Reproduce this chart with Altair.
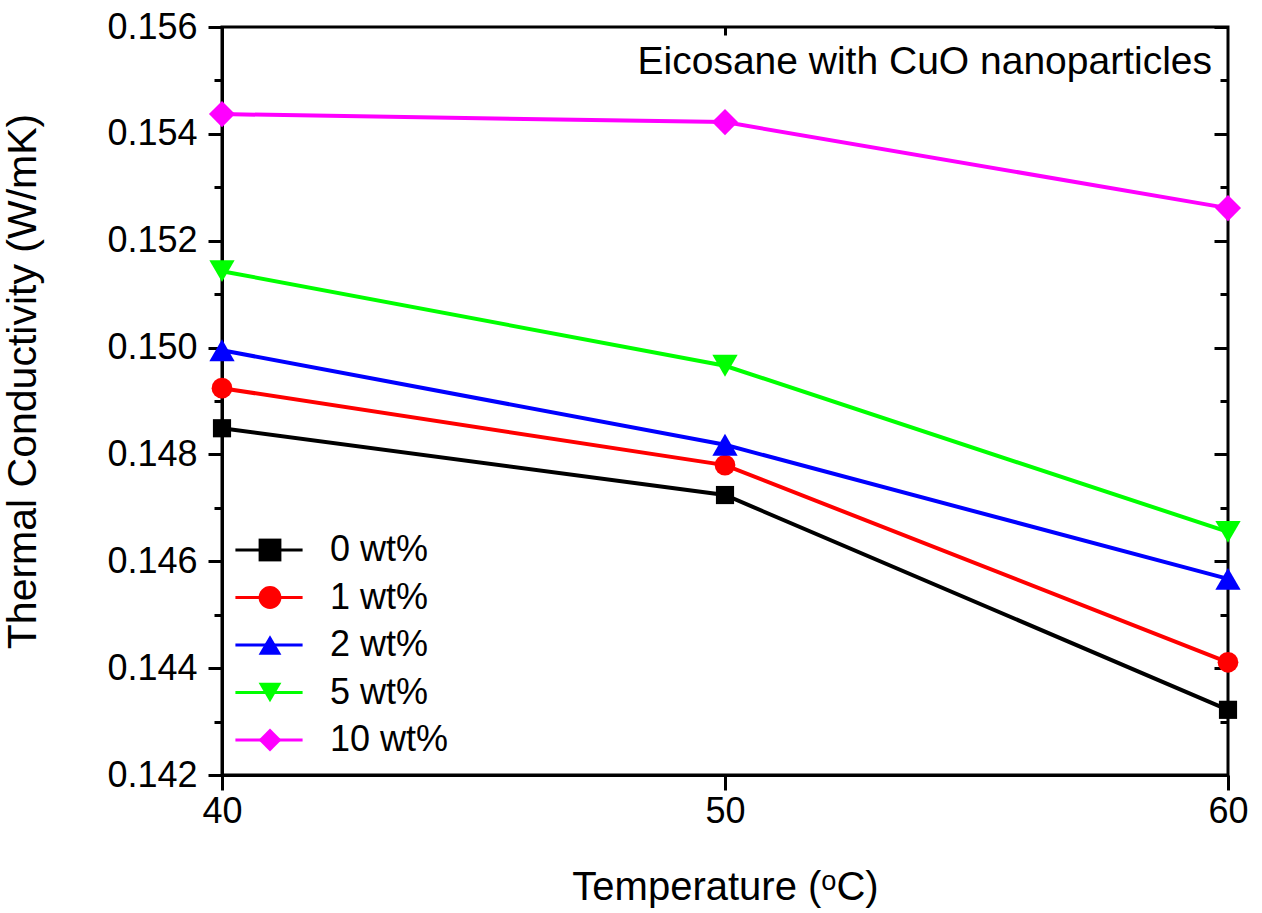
import altair as alt
import pandas as pd

# ---- data ----
temperatures = [40, 50, 60]
series_names = ["0 wt%", "1 wt%", "2 wt%", "5 wt%", "10 wt%"]
k_0wt = [0.14849, 0.14724, 0.14322]
k_1wt = [0.14924, 0.14780, 0.14411]
k_2wt = [0.14995, 0.14818, 0.14567]
k_5wt = [0.15143, 0.14966, 0.14655]
k_10wt = [0.15437, 0.15422, 0.15261]

colors = ["#000000", "#FF0000", "#0000FF", "#00FF00", "#FF00FF"]
shapes = ["square", "circle", "triangle-up", "triangle-down", "diamond"]
marker_sizes = [330, 430, 640, 640, 680]

y_major = [0.142, 0.144, 0.146, 0.148, 0.150, 0.152, 0.154, 0.156]
y_minor = [0.143, 0.145, 0.147, 0.149, 0.151, 0.153, 0.155]
x_ticks = [40, 50, 60]
x_top_ticks = [50]

annotation_text = "Eicosane with CuO nanoparticles"
annotation_x = 60
annotation_y = 0.15535

FONT = "Liberation Sans"

rows = []
for name, vals in zip(series_names, [k_0wt, k_1wt, k_2wt, k_5wt, k_10wt]):
    for t, v in zip(temperatures, vals):
        rows.append({"T": t, "k": v, "series": name, "label": name})
df = pd.DataFrame(rows)

xscale = alt.Scale(domain=[40, 60], nice=False, zero=False)
yscale = alt.Scale(domain=[0.142, 0.156], nice=False, zero=False)

base = alt.Chart(df)

legend_common = dict(orient="none", legendY=505, title=None, labelFont=FONT,
                     labelFontSize=36, rowPadding=11.5, padding=0)

# main lines with bottom x axis and left major y axis
lines = base.mark_line(strokeWidth=4).encode(
    x=alt.X("T:Q", scale=xscale, axis=alt.Axis(
        orient="bottom", values=x_ticks, tickSize=15, tickWidth=3, tickColor="black",
        domain=True, domainWidth=3, domainColor="black",
        labelFont=FONT, labelFontSize=36, labelColor="black", labelPadding=4,
        labelFlush=False, labelOverlap=False, grid=False,
        title="Temperature (ᵒC)", titleFont=FONT, titleFontSize=40,
        titleFontWeight="normal", titleColor="black",
        titleBaseline="alphabetic", titleY=124)),
    y=alt.Y("k:Q", scale=yscale, axis=alt.Axis(
        orient="left", values=y_major, format=".3f", tickSize=14, tickWidth=3,
        tickColor="black", domain=True, domainWidth=3, domainColor="black",
        labelFont=FONT, labelFontSize=36, labelColor="black", labelPadding=11,
        labelOverlap=False, labelFlush=False, grid=False,
        title="Thermal Conductivity (W/mK)", titleFont=FONT, titleFontSize=41,
        titleFontWeight="normal", titleColor="black", titleAngle=-90,
        titleBaseline="alphabetic", titleAlign="center", titleX=-187, titleY=354)),
    stroke=alt.Stroke("series:N", scale=alt.Scale(domain=series_names, range=colors),
                      legend=alt.Legend(
                          legendX=29, symbolType="M-4,0L4,0", symbolSize=282,
                          symbolStrokeWidth=3, labelExpr="''", **legend_common)),
    detail="series:N",
)

marker_legend = alt.Legend(legendX=30, symbolSize=520, symbolStrokeWidth=0,
                           symbolOpacity=1, labelColor="black", labelOffset=42,
                           **legend_common)

# markers with top x ticks and left minor y ticks
points = base.mark_point(filled=True, opacity=1, strokeWidth=0).encode(
    x=alt.X("T:Q", scale=xscale, axis=alt.Axis(
        orient="top", values=x_top_ticks, tickSize=8, tickWidth=3, tickColor="black",
        offset=-8, labels=False, domain=False, grid=False, title=None)),
    y=alt.Y("k:Q", scale=yscale, axis=alt.Axis(
        orient="left", values=y_minor, tickSize=8, tickWidth=3, tickColor="black",
        labels=False, domain=False, grid=False, title=None)),
    fill=alt.Fill("label:N", scale=alt.Scale(domain=series_names, range=colors),
                  legend=marker_legend),
    shape=alt.Shape("label:N", scale=alt.Scale(domain=series_names, range=shapes),
                    legend=marker_legend),
    size=alt.Size("label:N", scale=alt.Scale(type="ordinal", domain=series_names, range=marker_sizes),
                  legend=None),
)

# invisible layers carrying the right-hand inward ticks
right_major = base.mark_line(opacity=0).encode(
    x=alt.X("T:Q", scale=xscale, axis=None),
    y=alt.Y("k:Q", scale=yscale, axis=alt.Axis(
        orient="right", values=y_major, tickSize=14, tickWidth=3, tickColor="black",
        offset=-14, labels=False, domain=False, grid=False, title=None)),
    detail="series:N",
)
right_minor = base.mark_line(opacity=0).encode(
    x=alt.X("T:Q", scale=xscale, axis=None),
    y=alt.Y("k:Q", scale=yscale, axis=alt.Axis(
        orient="right", values=y_minor, tickSize=8, tickWidth=3, tickColor="black",
        offset=-8, labels=False, domain=False, grid=False, title=None)),
    detail="series:N",
)

annotation = alt.Chart(pd.DataFrame({"text": [annotation_text]})).mark_text(
    font=FONT, fontSize=39, color="black", align="right", baseline="middle", dx=-16
).encode(
    x=alt.datum(annotation_x, scale=xscale, axis=None),
    y=alt.datum(annotation_y, scale=yscale, axis=None),
    text="text:N",
)

chart = alt.layer(lines, points, right_major, right_minor, annotation).resolve_axis(
    x="independent", y="independent"
).resolve_legend(stroke="independent", fill="independent", shape="independent").properties(
    width=1006, height=748,
    autosize=alt.AutoSizeParams(type="none"),
    padding={"left": 222, "top": 27, "right": 34, "bottom": 138},
    background="white",
).configure_view(stroke="black", strokeWidth=3).configure_axis(grid=False)

chart.save("out.html", embed_options={"renderer": "svg", "actions": False})
